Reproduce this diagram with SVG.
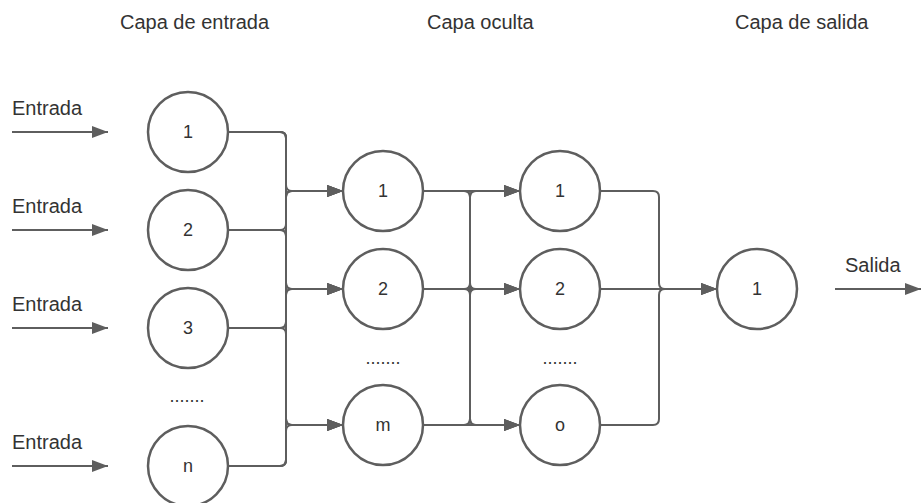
<svg xmlns="http://www.w3.org/2000/svg" width="921" height="503" viewBox="0 0 921 503">
<defs>
<marker id="ah" markerWidth="16" markerHeight="12" refX="16" refY="6" orient="auto" markerUnits="userSpaceOnUse">
<path d="M0,0 L16,6 L0,12 Z" fill="#5e5e5e"/>
</marker>
<style>
.t{font-family:"Liberation Sans",Arial,sans-serif;font-size:20px;fill:#333}
.n{font-family:"Liberation Sans",Arial,sans-serif;font-size:18px;fill:#333;text-anchor:middle}
.c{fill:#fff;stroke:#5e5e5e;stroke-width:2.5}
.e{fill:none;stroke:#5e5e5e;stroke-width:2}
.a{marker-end:url(#ah)}
</style>
</defs>
<rect width="921" height="503" fill="#fff"/>
<g id="titles">
<text class="t" x="120" y="29">Capa de entrada</text>
<text class="t" x="427" y="29">Capa oculta</text>
<text class="t" x="735" y="29">Capa de salida</text>
</g>
<g id="connectors">
<path class="e a" d="M12,132 H108"/>
<path class="e a" d="M12,230 H108"/>
<path class="e a" d="M12,328 H108"/>
<path class="e a" d="M12,466 H108"/>
<path class="e a" d="M228,132 H280 Q286,132 286,138 V185 Q286,191 292,191 H343"/>
<path class="e a" d="M228,132 H280 Q286,132 286,138 V283 Q286,289 292,289 H343"/>
<path class="e a" d="M228,132 H280 Q286,132 286,138 V419 Q286,425 292,425 H343"/>
<path class="e a" d="M228,230 H280 Q286,230 286,224 V197 Q286,191 292,191 H343"/>
<path class="e a" d="M228,230 H280 Q286,230 286,236 V283 Q286,289 292,289 H343"/>
<path class="e a" d="M228,230 H280 Q286,230 286,236 V419 Q286,425 292,425 H343"/>
<path class="e a" d="M228,328 H280 Q286,328 286,322 V197 Q286,191 292,191 H343"/>
<path class="e a" d="M228,328 H280 Q286,328 286,322 V295 Q286,289 292,289 H343"/>
<path class="e a" d="M228,328 H280 Q286,328 286,334 V419 Q286,425 292,425 H343"/>
<path class="e a" d="M228,466 H280 Q286,466 286,460 V197 Q286,191 292,191 H343"/>
<path class="e a" d="M228,466 H280 Q286,466 286,460 V295 Q286,289 292,289 H343"/>
<path class="e a" d="M228,466 H280 Q286,466 286,460 V431 Q286,425 292,425 H343"/>
<path class="e a" d="M423,191 H520"/>
<path class="e a" d="M423,191 H464 Q470,191 470,197 V283 Q470,289 476,289 H520"/>
<path class="e a" d="M423,191 H464 Q470,191 470,197 V419 Q470,425 476,425 H520"/>
<path class="e a" d="M423,289 H464 Q470,289 470,283 V197 Q470,191 476,191 H520"/>
<path class="e a" d="M423,289 H520"/>
<path class="e a" d="M423,289 H464 Q470,289 470,295 V419 Q470,425 476,425 H520"/>
<path class="e a" d="M423,425 H464 Q470,425 470,419 V197 Q470,191 476,191 H520"/>
<path class="e a" d="M423,425 H464 Q470,425 470,419 V295 Q470,289 476,289 H520"/>
<path class="e a" d="M423,425 H520"/>
<path class="e a" d="M600,191 H653 Q659,191 659,197 V283 Q659,289 665,289 H717"/>
<path class="e a" d="M600,289 H717"/>
<path class="e a" d="M600,425 H653 Q659,425 659,419 V295 Q659,289 665,289 H717"/>
<path class="e a" d="M835,289 H921"/>
</g>
<g id="labels">
<text class="t" x="12" y="115">Entrada</text>
<text class="t" x="12" y="213">Entrada</text>
<text class="t" x="12" y="311">Entrada</text>
<text class="t" x="12" y="449">Entrada</text>
<text class="t" x="845" y="272">Salida</text>
<text class="n" x="187" y="402">.......</text>
<text class="n" x="383" y="364">.......</text>
<text class="n" x="560" y="364">.......</text>
</g>
<g id="in1"><circle class="c" cx="188" cy="132" r="40"/><text class="n" x="188" y="138">1</text></g>
<g id="in2"><circle class="c" cx="188" cy="230" r="40"/><text class="n" x="188" y="236">2</text></g>
<g id="in3"><circle class="c" cx="188" cy="328" r="40"/><text class="n" x="188" y="334">3</text></g>
<g id="inn"><circle class="c" cx="188" cy="466" r="40"/><text class="n" x="188" y="472">n</text></g>
<g id="h1"><circle class="c" cx="383" cy="191" r="40"/><text class="n" x="383" y="197">1</text></g>
<g id="h2"><circle class="c" cx="383" cy="289" r="40"/><text class="n" x="383" y="295">2</text></g>
<g id="hm"><circle class="c" cx="383" cy="425" r="40"/><text class="n" x="383" y="431">m</text></g>
<g id="g1"><circle class="c" cx="560" cy="191" r="40"/><text class="n" x="560" y="197">1</text></g>
<g id="g2"><circle class="c" cx="560" cy="289" r="40"/><text class="n" x="560" y="295">2</text></g>
<g id="go"><circle class="c" cx="560" cy="425" r="40"/><text class="n" x="560" y="431">o</text></g>
<g id="out1"><circle class="c" cx="757" cy="289" r="40"/><text class="n" x="757" y="295">1</text></g>
</svg>
